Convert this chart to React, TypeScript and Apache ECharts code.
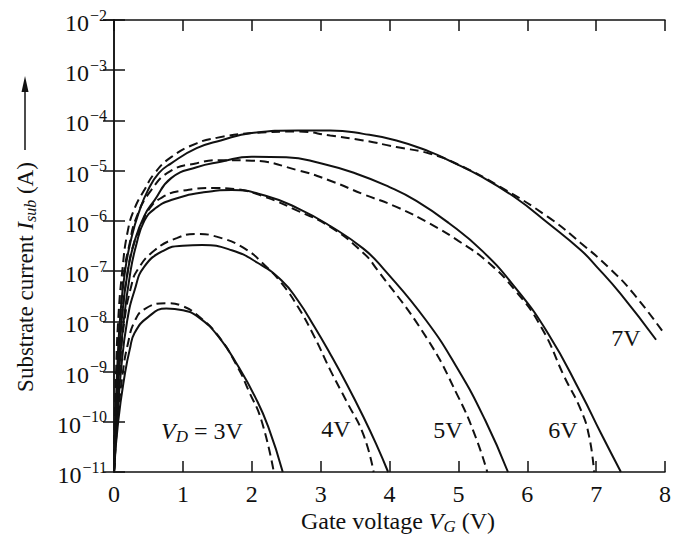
import React, { useEffect, useRef } from "react";
import * as echarts from "echarts";

// Gate voltage V_G (V) vs substrate current I_sub (A); solid = measured, dashed = model
const vd3Solid: [number, number][] = [
  [0, 1e-11], [0.06, 1e-10], [0.16, 9.3e-10], [0.23, 2.8e-9], [0.3, 5.9e-9], [0.49, 1.2e-8],
  [0.76, 1.8e-8], [1.0, 1.66e-8], [1.23, 1.2e-8], [1.52, 4.9e-9], [1.81, 1.23e-9],
  [2.05, 3.1e-10], [2.24, 7.9e-11], [2.45, 1e-11],
];
const vd3Dashed: [number, number][] = [
  [0, 1e-11], [0.05, 1e-10], [0.13, 1e-9], [0.2, 3.5e-9], [0.3, 1e-8], [0.45, 1.78e-8],
  [0.77, 2.3e-8], [1.0, 2.0e-8], [1.23, 1.26e-8], [1.52, 5.0e-9], [1.81, 1.12e-9],
  [1.95, 4.3e-10], [2.14, 1.07e-10], [2.32, 1e-11],
];
const vd4Solid: [number, number][] = [
  [0, 1e-11], [0.045, 1e-10], [0.1, 1e-9], [0.19, 1e-8], [0.3, 4.2e-8], [0.44, 1.23e-7],
  [0.73, 2.6e-7], [1.0, 3.2e-7], [1.28, 3.3e-7], [1.71, 2.6e-7], [2.09, 1.45e-7],
  [2.43, 6.6e-8], [2.67, 2.6e-8], [2.91, 7.8e-9], [3.14, 2.24e-9], [3.38, 5.6e-10],
  [3.62, 1.26e-10], [3.81, 3.5e-11], [3.98, 1e-11],
];
const vd4Dashed: [number, number][] = [
  [0, 1e-11], [0.035, 1e-10], [0.08, 1e-9], [0.15, 1e-8], [0.25, 5.0e-8], [0.34, 1.05e-7],
  [0.59, 2.6e-7], [0.92, 4.6e-7], [1.19, 5.5e-7], [1.5, 4.8e-7], [1.9, 2.8e-7],
  [2.2, 1.26e-7], [2.43, 5.8e-8], [2.67, 1.95e-8], [2.91, 4.9e-9], [3.14, 1.07e-9],
  [3.38, 2.5e-10], [3.62, 5.6e-11], [3.77, 1e-11],
];
const vd5Solid: [number, number][] = [
  [0, 1e-11], [0.035, 1e-10], [0.075, 1e-9], [0.14, 1e-8], [0.24, 1e-7], [0.32, 3.2e-7],
  [0.44, 1e-6], [0.6, 1.78e-6], [0.83, 2.6e-6], [1.3, 3.7e-6], [1.71, 4.1e-6],
  [2.19, 3.2e-6], [2.67, 1.78e-6], [3.14, 7.9e-7], [3.62, 2.8e-7], [3.91, 1.12e-7],
  [4.53, 1.05e-8], [5.0, 1.07e-9], [5.39, 1.07e-10], [5.72, 1e-11],
];
const vd5Dashed: [number, number][] = [
  [0, 1e-11], [0.025, 1e-10], [0.06, 1e-9], [0.11, 1e-8], [0.2, 1e-7], [0.3, 4.0e-7],
  [0.4, 7.9e-7], [0.49, 1.58e-6], [0.7, 2.95e-6], [1.0, 4.0e-6], [1.47, 4.5e-6],
  [1.75, 4.3e-6], [2.19, 3.0e-6], [2.67, 1.58e-6], [3.14, 7.6e-7], [3.62, 2.3e-7],
  [3.81, 1.12e-7], [4.53, 4.9e-9], [5.0, 3.1e-10], [5.25, 5.0e-11], [5.42, 1e-11],
];
const vd6Solid: [number, number][] = [
  [0, 1e-11], [0.025, 1e-10], [0.06, 1e-9], [0.11, 1e-8], [0.2, 1e-7], [0.3, 4.0e-7],
  [0.44, 1.26e-6], [0.59, 2.6e-6], [0.83, 7.1e-6], [1.2, 1.17e-5], [1.55, 1.5e-5],
  [2.0, 1.9e-5], [2.5, 1.86e-5], [3.0, 1.41e-5], [3.5, 8.9e-6], [4.0, 4.7e-6],
  [4.39, 2.5e-6], [4.86, 9.1e-7], [5.35, 2.5e-7], [5.82, 4.8e-8], [6.3, 5.8e-9],
  [6.78, 3.7e-10], [7.07, 5.9e-11], [7.36, 1e-11],
];
const vd6Dashed: [number, number][] = [
  [0, 1e-11], [0.015, 1e-10], [0.045, 1e-9], [0.085, 1e-8], [0.15, 1e-7], [0.22, 3.2e-7],
  [0.32, 1.12e-6], [0.54, 4.1e-6], [0.83, 1e-5], [1.2, 1.41e-5], [1.52, 1.62e-5],
  [2.0, 1.58e-5], [2.67, 1.02e-5], [3.14, 6.3e-6], [3.62, 3.4e-6], [4.1, 1.9e-6],
  [4.58, 8.9e-7], [5.0, 4.0e-7], [5.43, 1.5e-7], [5.82, 4.2e-8], [6.2, 7.8e-9],
  [6.54, 7.8e-10], [6.78, 1.7e-10], [6.9, 5e-11], [6.97, 1e-11],
];
const vd7Solid: [number, number][] = [
  [0, 1e-11], [0.02, 1e-10], [0.045, 1e-9], [0.085, 1e-8], [0.16, 1e-7], [0.26, 5.0e-7],
  [0.37, 1.6e-6], [0.49, 4.0e-6], [0.65, 8.9e-6], [0.83, 1.4e-5], [1.2, 2.8e-5],
  [1.55, 4.0e-5], [2.0, 5.6e-5], [2.67, 6.3e-5], [3.14, 6.3e-5], [3.62, 5.4e-5],
  [4.1, 4.0e-5], [4.58, 2.4e-5], [4.86, 1.6e-5], [5.35, 7.4e-6], [5.82, 2.95e-6],
  [6.3, 9.1e-7], [6.78, 2.6e-7], [7.0, 1.26e-7], [7.35, 3.6e-8], [7.87, 4.3e-9],
];
const vd7Dashed: [number, number][] = [
  [0, 1e-11], [0.012, 1e-10], [0.03, 1e-9], [0.06, 1e-8], [0.12, 1e-7], [0.2, 6.3e-7],
  [0.3, 1.78e-6], [0.44, 4.1e-6], [0.59, 8.9e-6], [0.83, 1.86e-5], [1.2, 3.5e-5],
  [1.49, 4.5e-5], [2.0, 5.6e-5], [2.67, 6.0e-5], [3.14, 5.0e-5], [3.62, 4.0e-5],
  [4.1, 2.95e-5], [4.58, 2.2e-5], [5.0, 1.32e-5], [5.58, 5.0e-6], [6.3, 1.2e-6],
  [6.78, 3.6e-7], [7.2, 1.12e-7], [7.54, 3.6e-8], [8.0, 5.4e-9],
];

const curveLabels = ["3V", "4V", "5V", "6V", "7V"];
const X_MIN = 0;
const X_MAX = 8;
const Y_MIN = 1e-11;
const Y_MAX = 1e-2;

const FONT = '"Liberation Serif", "Times New Roman", serif';
const INK = "#111";

export default function App() {
  const ref = useRef<HTMLDivElement>(null);

  useEffect(() => {
    const chart = echarts.init(ref.current!, null, { renderer: "svg" });

    const mk = (name: string, data: [number, number][], dashed: boolean) => ({
      type: "line",
      name,
      data,
      xAxisIndex: 0,
      yAxisIndex: 0,
      symbol: "none",
      showSymbol: false,
      smooth: 0.5,
      silent: true,
      clip: true,
      lineStyle: { color: INK, width: 2, type: dashed ? [9, 5] : "solid" },
    });

    const axisLine = { show: true, lineStyle: { color: INK, width: 1.5 } };
    const tick = { show: true, inside: true, length: 11, lineStyle: { color: INK, width: 1.5 } };

    const supFormatter = (v: number) => {
      const e = Math.round(Math.log10(v));
      return `{b|10}{e|\u2212${Math.abs(e)}}`;
    };

    const option: any = {
      animation: false,
      backgroundColor: "#fff",
      grid: { left: 114, top: 20, right: 2, bottom: 72, containLabel: false },
      xAxis: [
        {
          type: "value", min: X_MIN, max: X_MAX, interval: 1, position: "bottom",
          axisLine, axisTick: tick, splitLine: { show: false },
          axisLabel: { color: INK, fontFamily: FONT, fontSize: 24, margin: 10 },
        },
        {
          type: "value", min: X_MIN, max: X_MAX, interval: 1, position: "top",
          axisLine, axisTick: tick, splitLine: { show: false }, axisLabel: { show: false },
        },
      ],
      yAxis: [
        {
          type: "log", logBase: 10, min: Y_MIN, max: Y_MAX, interval: 1, position: "left",
          axisLine, axisTick: tick, splitLine: { show: false }, minorTick: { show: false },
          axisLabel: {
            color: INK, fontFamily: FONT, margin: 7,
            formatter: supFormatter,
            rich: {
              b: { fontSize: 24, fontFamily: FONT, color: INK, padding: [6, 0, 0, 0] },
              e: { fontSize: 16, fontFamily: FONT, color: INK, padding: [0, 0, 10, 1] },
            },
          },
        },
        {
          type: "log", logBase: 10, min: Y_MIN, max: Y_MAX, interval: 1, position: "right",
          axisLine, axisTick: tick, splitLine: { show: false }, axisLabel: { show: false },
        },
      ],
      series: [
        mk("3V solid", vd3Solid, false), mk("3V dashed", vd3Dashed, true),
        mk("4V solid", vd4Solid, false), mk("4V dashed", vd4Dashed, true),
        mk("5V solid", vd5Solid, false), mk("5V dashed", vd5Dashed, true),
        mk("6V solid", vd6Solid, false), mk("6V dashed", vd6Dashed, true),
        mk("7V solid", vd7Solid, false), mk("7V dashed", vd7Dashed, true),
      ],
      graphic: [
        {
          type: "text", x: 202, y: 431,
          style: {
            text: `{i|V}{s|D}{n| = ${curveLabels[0]}}`,
            align: "center", verticalAlign: "middle",
            rich: {
              i: { fontFamily: FONT, fontSize: 24, fontStyle: "italic", fill: INK },
              s: { fontFamily: FONT, fontSize: 17, fontStyle: "italic", fill: INK, padding: [11, 0, 0, 0] },
              n: { fontFamily: FONT, fontSize: 24, fill: INK },
            },
          },
        },
        { type: "text", x: 336, y: 429, style: { text: curveLabels[1], font: `24px ${FONT}`, fill: INK, align: "center", verticalAlign: "middle" } },
        { type: "text", x: 448, y: 430, style: { text: curveLabels[2], font: `24px ${FONT}`, fill: INK, align: "center", verticalAlign: "middle" } },
        { type: "text", x: 563, y: 430, style: { text: curveLabels[3], font: `24px ${FONT}`, fill: INK, align: "center", verticalAlign: "middle" } },
        { type: "text", x: 626, y: 338, style: { text: curveLabels[4], font: `24px ${FONT}`, fill: INK, align: "center", verticalAlign: "middle" } },
        {
          type: "text", x: 398, y: 521,
          style: {
            text: "{n|Gate voltage }{i|V}{s|G}{n| (V)}",
            align: "center", verticalAlign: "middle",
            rich: {
              n: { fontFamily: FONT, fontSize: 24, fill: INK },
              i: { fontFamily: FONT, fontSize: 24, fontStyle: "italic", fill: INK },
              s: { fontFamily: FONT, fontSize: 17, fontStyle: "italic", fill: INK, padding: [11, 0, 0, 0] },
            },
          },
        },
        {
          type: "text", x: 25, y: 277, rotation: Math.PI / 2,
          style: {
            text: "{n|Substrate current }{i|I}{s|sub}{n| (A)}",
            align: "center", verticalAlign: "middle",
            rich: {
              n: { fontFamily: FONT, fontSize: 23, fill: INK },
              i: { fontFamily: FONT, fontSize: 23, fontStyle: "italic", fill: INK },
              s: { fontFamily: FONT, fontSize: 16, fontStyle: "italic", fill: INK, padding: [10, 0, 0, 0] },
            },
          },
        },
        { type: "line", shape: { x1: 25, y1: 150, x2: 25, y2: 88 }, style: { stroke: INK, lineWidth: 1.5 } },
        { type: "polygon", shape: { points: [[25, 76], [21.5, 92], [28.5, 92]] }, style: { fill: INK } },
      ],
    };

    chart.setOption(option);
    return () => chart.dispose();
  }, []);

  return (
    <div
      ref={ref}
      style={{ position: "fixed", left: 0, top: 0, width: 674, height: 544, background: "#fff" }}
    />
  );
}
